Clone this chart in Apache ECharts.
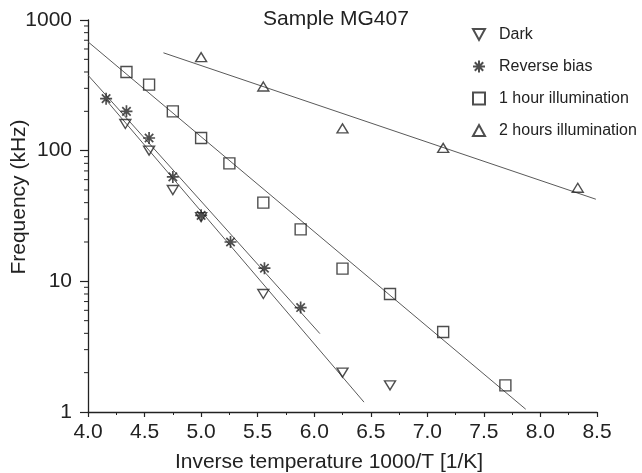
<!DOCTYPE html>
<html>
<head>
<meta charset="utf-8">
<script src="https://cdn.jsdelivr.net/npm/echarts@6/dist/echarts.min.js"></script>
<style>html,body{margin:0;padding:0;background:#fff;}#c{width:642px;height:473px;}</style>
</head>
<body>
<div id="c"></div>
<script>
// ---- data ----
var darkX = [4.33, 4.54, 4.75, 5.0, 5.55, 6.25, 6.67];
var darkY = [160, 100, 50, 31, 8, 2.0, 1.6];
var reverseX = [4.16, 4.34, 4.54, 4.75, 5.0, 5.26, 5.56, 5.88];
var reverseY = [250, 200, 125, 63, 32, 20, 12.6, 6.3];
var hour1X = [4.34, 4.54, 4.75, 5.0, 5.25, 5.55, 5.88, 6.25, 6.67, 7.14, 7.69];
var hour1Y = [400, 320, 200, 125, 80, 40, 25, 12.5, 8, 4.1, 1.6];
var hour2X = [5.0, 5.55, 6.25, 7.14, 8.33];
var hour2Y = [520, 310, 148, 105, 52];
// fitted lines (end points)
var darkFit = [[4.16, 244], [6.44, 1.19]];
var reverseFit = [[4.0, 378], [6.05, 3.98]];
var hour1Fit = [[4.0, 681], [7.87, 1.05]];
var hour2Fit = [[4.667, 561], [8.49, 42.5]];
var seriesNames = ['Dark', 'Reverse bias', '1 hour illumination', '2 hours illumination'];
var yMinorTicks = [2,3,4,5,6,7,8,9,20,30,40,50,60,70,80,90,200,300,400,500,600,700,800,900];
var titleText = 'Sample MG407';
var xName = 'Inverse temperature 1000/T [1/K]';
var yName = 'Frequency (kHz)';

function zip(xs, ys){ return xs.map(function(x,i){ return [x, ys[i]]; }); }

var INK = '#222';
var FONT = '"Liberation Sans", Arial, Helvetica, sans-serif';
var symDown = 'path://M0,0L10,0L5,9Z';
var symUp = 'path://M5,0L10,9L0,9Z';
var symStar = 'path://M5,0L5,10M0,5L10,5M1.5,1.5L8.5,8.5M8.5,1.5L1.5,8.5';
var symSquare = 'path://M0,0L10,0L10,10L0,10Z';

function scatter(name, data, sym, size, bw){
  return {name: name, type: 'scatter', data: data, symbol: sym, symbolSize: size,
    symbolKeepAspect: true, z: 5, silent: true,
    itemStyle: {color: 'rgba(255,255,255,0)', borderColor: INK, borderWidth: bw}};
}
function fit(data){
  return {type: 'line', data: data, showSymbol: false, symbol: 'none', silent: true,
    lineStyle: {color: '#5a5a5a', width: 1}, z: 3};
}

var chart = echarts.init(document.getElementById('c'), null, {renderer: 'canvas'});
chart.setOption({
  animation: false,
  backgroundColor: '#fff',
  grid: {left: 88, right: 45, top: 20, bottom: 61, containLabel: false},
  xAxis: {
    type: 'value', min: 4.0, max: 8.5, interval: 0.5,
    axisLine: {lineStyle: {color: INK, width: 1.3}},
    axisTick: {length: 5, lineStyle: {color: INK, width: 1.2}},
    minorTick: {show: true, splitNumber: 2, length: 3, lineStyle: {color: INK, width: 1}},
    splitLine: {show: false},
    axisLabel: {color: INK, fontFamily: FONT, fontSize: 21, margin: 10,
      formatter: function(v){ return v.toFixed(1); }}
  },
  yAxis: {
    type: 'log', logBase: 10, min: 1, max: 1000,
    axisLine: {show: true, lineStyle: {color: INK, width: 1.3}},
    axisTick: {show: true, length: 8, lineStyle: {color: INK, width: 1.2}},
    splitLine: {show: false},
    axisLabel: {color: INK, fontFamily: FONT, fontSize: 21, margin: 16,
      formatter: function(v){ return String(Math.round(v)); }}
  },
  legend: {
    orient: 'vertical', left: 472, top: 26, padding: 0, itemWidth: 12, itemHeight: 12, itemGap: 15,
    selectedMode: false,
    textStyle: {color: INK, fontFamily: FONT, fontSize: 16, lineHeight: 17, padding: [0,0,0,9]},
    data: [
      {name: seriesNames[0], icon: symDown},
      {name: seriesNames[1], icon: symStar},
      {name: seriesNames[2], icon: symSquare},
      {name: seriesNames[3], icon: symUp}
    ]
  },
  graphic: [
    {type: 'text', left: 263, top: 9, style: {text: titleText, fill: INK, font: '21px ' + FONT}},
    {type: 'text', x: 329, y: 462, style: {text: xName, fill: INK, font: '21px ' + FONT, align: 'center', verticalAlign: 'middle'}},
    {type: 'text', x: 19, y: 197, rotation: Math.PI / 2, style: {text: yName, fill: INK, font: '21px ' + FONT, align: 'center', verticalAlign: 'middle'}}
  ],
  series: [
    fit(darkFit), fit(reverseFit), fit(hour1Fit), fit(hour2Fit),
    scatter(seriesNames[0], zip(darkX, darkY), symDown, [11, 10], 1.4),
    scatter(seriesNames[1], zip(reverseX, reverseY), symStar, 12, 1.7),
    scatter(seriesNames[2], zip(hour1X, hour1Y), symSquare, 11, 1.4),
    scatter(seriesNames[3], zip(hour2X, hour2Y), symUp, [11, 10], 1.4),
    {
      type: 'custom', silent: true, clip: false, z: 4,
      data: yMinorTicks.map(function(v){ return [4.0, v]; }),
      renderItem: function(params, api){
        var p = api.coord([api.value(0), api.value(1)]);
        return {type: 'line', shape: {x1: p[0] - 4, y1: p[1], x2: p[0], y2: p[1]},
          style: {stroke: INK, lineWidth: 1}};
      }
    }
  ]
});
</script>
</body>
</html>
